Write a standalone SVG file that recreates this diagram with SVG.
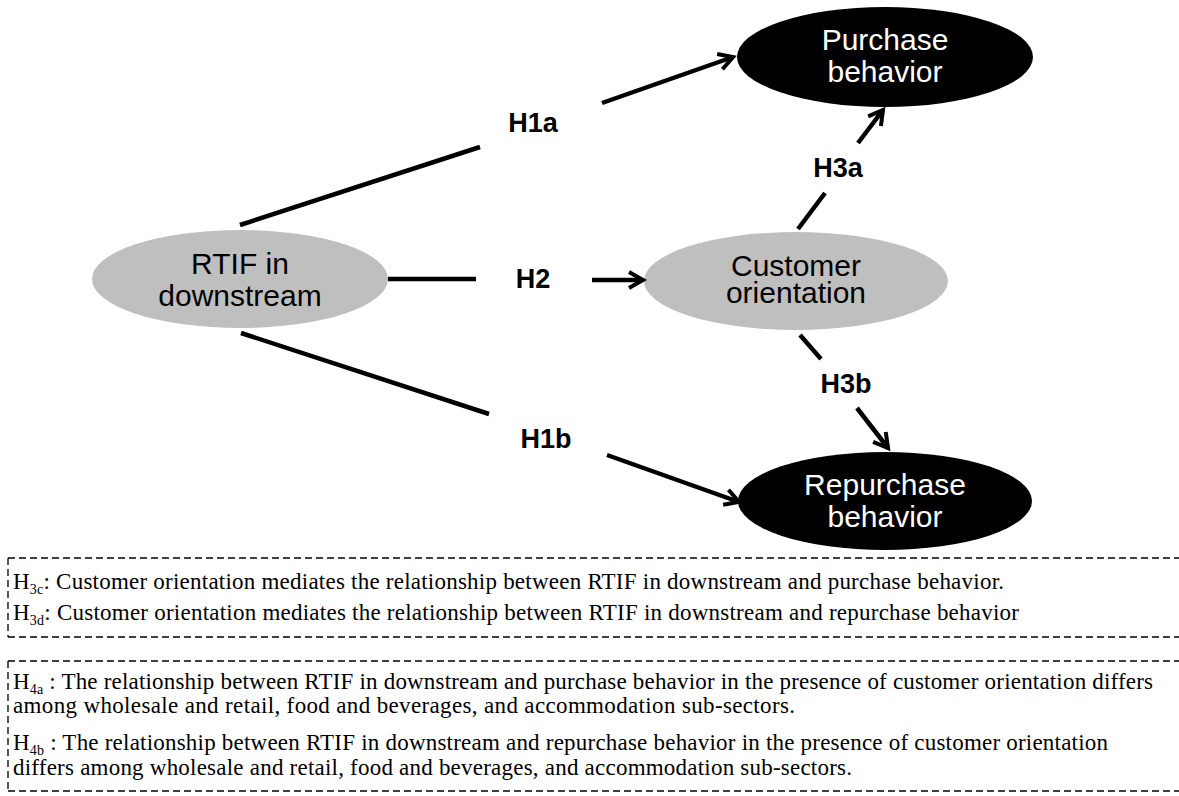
<svg xmlns="http://www.w3.org/2000/svg" width="1179" height="796" viewBox="0 0 1179 796">
<style>
.grey{fill:#bfbfbf}
.black{fill:#000}
.lbl{font-family:"Liberation Sans",Arial,sans-serif;font-size:30px;text-anchor:middle}
.dark{fill:#000}
.light{fill:#fff}
.hyp{font-family:"Liberation Sans",Arial,sans-serif;font-size:27px;font-weight:bold;text-anchor:middle;fill:#000}
.conn{stroke:#000;stroke-width:4.5;fill:none}
.box{fill:none;stroke:#000;stroke-width:1.3;stroke-dasharray:7 4}
.note{font-family:"Liberation Serif","Times New Roman",serif;font-size:23px;fill:#000}
.sub{font-size:14px}
</style>
<defs>
<marker id="arr" markerUnits="userSpaceOnUse" markerWidth="24" markerHeight="24" viewBox="0 0 24 24" refX="18" refY="12" orient="auto">
<path d="M4,4 L18,12 L4,20" fill="none" stroke="#000" stroke-width="4"/>
</marker>
</defs>
<rect width="1179" height="796" fill="#fff"/>

<g id="rtif">
<ellipse class="grey" cx="240" cy="279" rx="148" ry="49"/>
<text class="lbl dark" x="240" y="274">RTIF in</text>
<text class="lbl dark" x="240" y="306">downstream</text>
</g>
<g id="customer">
<ellipse class="grey" cx="796" cy="281" rx="152" ry="49"/>
<text class="lbl dark" x="796" y="276">Customer</text>
<text class="lbl dark" x="796" y="303">orientation</text>
</g>
<g id="purchase">
<ellipse class="black" cx="885" cy="57" rx="148" ry="50"/>
<text class="lbl light" x="885" y="50">Purchase</text>
<text class="lbl light" x="885" y="82">behavior</text>
</g>
<g id="repurchase">
<ellipse class="black" cx="885" cy="501" rx="147" ry="49"/>
<text class="lbl light" x="885" y="495">Repurchase</text>
<text class="lbl light" x="885" y="527">behavior</text>
</g>

<g id="connectors">
<line class="conn" x1="240" y1="225" x2="480" y2="147"/>
<line class="conn" x1="602" y1="103" x2="733" y2="57" marker-end="url(#arr)"/>
<line class="conn" x1="388" y1="279" x2="476" y2="279"/>
<line class="conn" x1="592" y1="280" x2="643" y2="280" marker-end="url(#arr)"/>
<line class="conn" x1="241" y1="333" x2="489" y2="414"/>
<line class="conn" x1="607" y1="455" x2="739" y2="502" marker-end="url(#arr)"/>
<line class="conn" x1="798" y1="229" x2="825" y2="193"/>
<line class="conn" x1="858" y1="143" x2="883" y2="110" marker-end="url(#arr)"/>
<line class="conn" x1="800" y1="335" x2="821" y2="359"/>
<line class="conn" x1="857" y1="408" x2="888" y2="448" marker-end="url(#arr)"/>
</g>

<g id="labels">
<text class="hyp" x="533" y="132">H1a</text>
<text class="hyp" x="533" y="288">H2</text>
<text class="hyp" x="546" y="448">H1b</text>
<text class="hyp" x="838" y="177">H3a</text>
<text class="hyp" x="846" y="393">H3b</text>
</g>

<g id="box1">
<path class="box" d="M8,558 H1179 M8,637 H1179 M8,558 V637"/>
<text class="note" x="13" y="589" textLength="991" lengthAdjust="spacing">H<tspan class="sub" dy="5">3c</tspan><tspan dy="-5">: Customer orientation mediates the relationship between RTIF in downstream and purchase behavior.</tspan></text>
<text class="note" x="13" y="620" textLength="1006" lengthAdjust="spacing">H<tspan class="sub" dy="5">3d</tspan><tspan dy="-5">: Customer orientation mediates the relationship between RTIF in downstream and repurchase behavior</tspan></text>
</g>

<g id="box2">
<path class="box" d="M8,661 H1179 M8,791 H1179 M8,661 V791"/>
<text class="note" x="13" y="689" textLength="1140" lengthAdjust="spacing">H<tspan class="sub" dy="5">4a</tspan><tspan dy="-5"> : The relationship between RTIF in downstream and purchase behavior in the presence of customer orientation differs</tspan></text>
<text class="note" x="13" y="713" textLength="782" lengthAdjust="spacing">among wholesale and retail, food and beverages, and accommodation sub-sectors.</text>
<text class="note" x="13" y="750" textLength="1095" lengthAdjust="spacing">H<tspan class="sub" dy="5">4b</tspan><tspan dy="-5"> : The relationship between RTIF in downstream and repurchase behavior in the presence of customer orientation</tspan></text>
<text class="note" x="13" y="775" textLength="839" lengthAdjust="spacing">differs among wholesale and retail, food and beverages, and accommodation sub-sectors.</text>
</g>
</svg>
